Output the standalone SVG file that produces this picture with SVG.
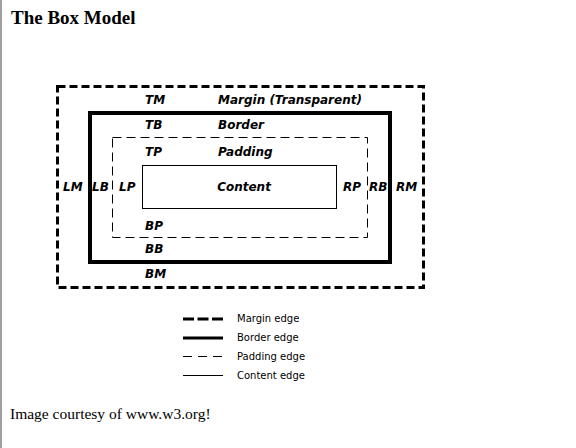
<svg xmlns="http://www.w3.org/2000/svg" width="576" height="448" viewBox="0 0 576 448">
<style>
.lbl{font-family:"DejaVu Sans",Verdana,sans-serif;font-weight:bold;font-style:italic;font-size:12px;fill:#000}
.leg{font-family:"DejaVu Sans",Verdana,sans-serif;font-size:10px;fill:#000}
.margin{fill:none;stroke:#000;stroke-width:3;stroke-dasharray:8 4}
.border{fill:none;stroke:#000;stroke-width:4}
.padding{fill:none;stroke:#000;stroke-width:1;stroke-dasharray:9 5}
.content{fill:none;stroke:#000;stroke-width:1}
</style>
<rect x="0" y="0" width="576" height="448" fill="#fff"/>
<rect x="0" y="0" width="2" height="448" fill="#a0a0a0"/>
<text x="11" y="24" font-family="Liberation Serif,serif" font-weight="bold" font-size="19">The Box Model</text>
<g id="margin-box">
<rect class="margin" x="57.5" y="86.5" width="366" height="201"/>
<text class="lbl" x="145" y="104">TM</text>
<text class="lbl" x="218" y="104">Margin (Transparent)</text>
<text class="lbl" x="63" y="191">LM</text>
<text class="lbl" x="396" y="191">RM</text>
<text class="lbl" x="145" y="278">BM</text>
</g>
<g id="border-box">
<rect class="border" x="90" y="113" width="300" height="149"/>
<text class="lbl" x="145" y="129">TB</text>
<text class="lbl" x="218" y="129">Border</text>
<text class="lbl" x="92" y="191">LB</text>
<text class="lbl" x="369" y="191">RB</text>
<text class="lbl" x="145" y="253">BB</text>
</g>
<g id="padding-box">
<rect class="padding" x="112.5" y="137.5" width="255" height="100"/>
<text class="lbl" x="145" y="156">TP</text>
<text class="lbl" x="218" y="156">Padding</text>
<text class="lbl" x="119" y="191">LP</text>
<text class="lbl" x="343" y="191">RP</text>
<text class="lbl" x="145" y="230">BP</text>
</g>
<g id="content-box">
<rect class="content" x="142.5" y="165.5" width="194" height="43"/>
<text class="lbl" x="244" y="191" text-anchor="middle">Content</text>
</g>
<g id="legend">
<line class="margin" x1="183" y1="319" x2="223" y2="319" style="stroke-dasharray:11 3.5"/>
<text class="leg" x="237" y="322">Margin edge</text>
<line class="border" x1="183" y1="338" x2="223" y2="338" style="stroke-width:3"/>
<text class="leg" x="237" y="341">Border edge</text>
<line class="padding" x1="183" y1="356.5" x2="223" y2="356.5" style="stroke-dasharray:9 6"/>
<text class="leg" x="237" y="360">Padding edge</text>
<line class="content" x1="183" y1="375.5" x2="223" y2="375.5"/>
<text class="leg" x="237" y="379">Content edge</text>
</g>
<text x="10" y="419" font-family="Liberation Serif,serif" font-size="15.5">Image courtesy of www.w3.org!</text>
</svg>
